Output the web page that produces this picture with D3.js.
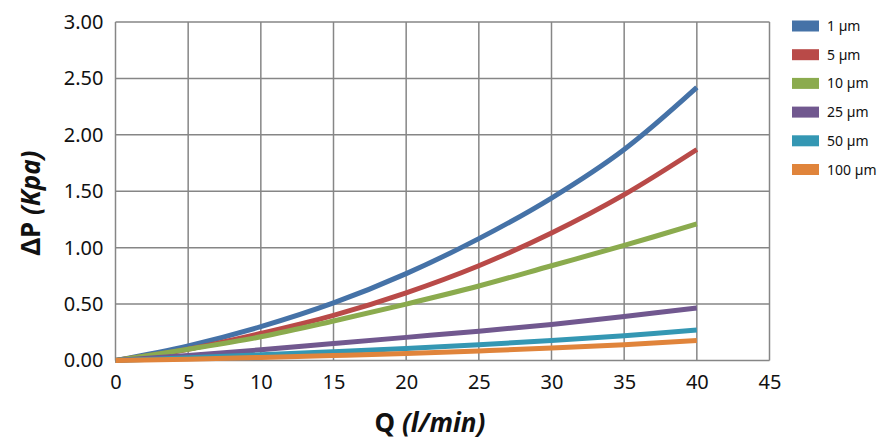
<!DOCTYPE html>
<html><head><meta charset="utf-8">
<script src="https://cdn.jsdelivr.net/npm/d3@7"></script>
<style>
body{margin:0;background:#fff;}
svg{display:block;font-family:"Noto Sans","Open Sans",sans-serif;}
</style></head>
<body>
<svg id="c" width="885" height="439"></svg>
<script>
const flow = [0, 5, 10, 15, 20, 25, 30, 35, 40];
const seriesNames = ["1 µm", "5 µm", "10 µm", "25 µm", "50 µm", "100 µm"];
const s1 = [0, 0.13, 0.30, 0.51, 0.77, 1.08, 1.44, 1.87, 2.42];
const s5 = [0, 0.10, 0.24, 0.40, 0.60, 0.84, 1.13, 1.47, 1.87];
const s10 = [0, 0.10, 0.21, 0.35, 0.50, 0.66, 0.84, 1.02, 1.21];
const s25 = [0, 0.045, 0.095, 0.15, 0.205, 0.26, 0.32, 0.39, 0.465];
const s50 = [0, 0.024, 0.05, 0.078, 0.107, 0.14, 0.177, 0.22, 0.27];
const s100 = [0, 0.012, 0.027, 0.044, 0.063, 0.085, 0.11, 0.14, 0.178];
const colors = ["#4572a7", "#b94a48", "#8bab4e", "#71588f", "#3497b3", "#e0843b"];
const xTicks = [0, 5, 10, 15, 20, 25, 30, 35, 40, 45];
const yTicks = [0, 0.5, 1, 1.5, 2, 2.5, 3];
const seriesValues = [s1, s5, s10, s25, s50, s100];

const svg = d3.select("#c");
const L = 115.5, R = 769.5, T = 22, B = 360.5;
const x = d3.scaleLinear().domain([0, 45]).range([L, R]);
const y = d3.scaleLinear().domain([0, 3]).range([B, T]);

// grid
svg.append("g").selectAll("line").data(xTicks).join("line")
  .attr("x1", d => x(d)).attr("x2", d => x(d)).attr("y1", T).attr("y2", B)
  .attr("stroke", "#868686").attr("stroke-width", 1.5);
svg.append("g").selectAll("line").data(yTicks).join("line")
  .attr("x1", L).attr("x2", R).attr("y1", d => y(d)).attr("y2", d => y(d))
  .attr("stroke", "#868686").attr("stroke-width", 1.5);

// axes labels
const xAxis = svg.append("g").attr("transform", `translate(0,${B})`)
  .call(d3.axisBottom(x).tickValues(xTicks).tickSize(0).tickPadding(14).tickFormat(d3.format("d")));
xAxis.select(".domain").remove();
xAxis.selectAll("text").attr("font-size", 20).attr("fill", "#111").attr("font-family", "Noto Sans");

const yAxis = svg.append("g").attr("transform", `translate(${L},0)`)
  .call(d3.axisLeft(y).tickValues(yTicks).tickSize(0).tickPadding(12).tickFormat(d3.format(".2f")));
yAxis.select(".domain").remove();
yAxis.selectAll("text").attr("font-size", 20).attr("fill", "#111").attr("font-family", "Noto Sans");

// lines
const line = d3.line().x((d, i) => x(flow[i])).y(d => y(d)).curve(d3.curveCatmullRom.alpha(0.5));
seriesValues.forEach((vals, k) => {
  svg.append("path").datum(vals).attr("d", line)
    .attr("fill", "none").attr("stroke", colors[k]).attr("stroke-width", 5)
    .attr("stroke-linecap", "butt");
});

// axis titles
const xt = svg.append("text").attr("x", 430).attr("y", 432).attr("text-anchor", "middle")
  .attr("font-size", 26).attr("font-weight", "bold").attr("fill", "#111");
xt.append("tspan").text("Q ");
xt.append("tspan").attr("font-style", "italic").text("(l/min)");

const yt = svg.append("text").attr("transform", "translate(40,203) rotate(-90)")
  .attr("text-anchor", "middle").attr("font-size", 26).attr("font-weight", "bold").attr("fill", "#111");
yt.append("tspan").text("ΔP ");
yt.append("tspan").attr("font-style", "italic").text("(Kpa)");

// legend
const lg = svg.append("g");
seriesNames.forEach((n, k) => {
  const cy = 26 + k * 28.7;
  lg.append("rect").attr("x", 792).attr("y", cy - 5.5).attr("width", 27).attr("height", 11).attr("fill", colors[k]);
  lg.append("text").attr("x", 827).attr("y", cy + 5).attr("font-size", 14).attr("fill", "#111").text(n);
});
</script>
</body></html>
